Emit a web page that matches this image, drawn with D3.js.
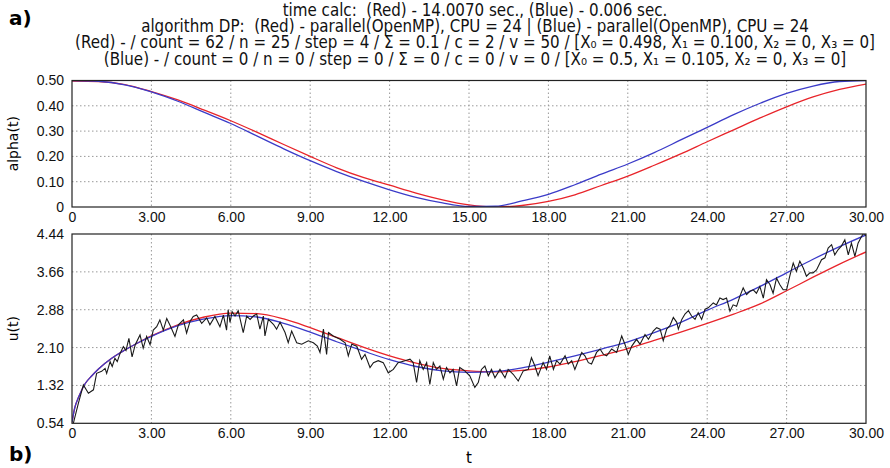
<!DOCTYPE html>
<html>
<head>
<meta charset="utf-8">
<script src="https://cdn.jsdelivr.net/npm/d3@7"></script>
<style>
  body { margin: 0; background: #fff; }
  svg { display: block; font-family: "DejaVu Sans", sans-serif; }
  .tick text { font-size: 14px; fill: #111; }
  .grid line { stroke: #999; stroke-dasharray: 1.5,2.5; }
  .title { white-space: pre; font-family: "DejaVu Sans Condensed", "DejaVu Sans", sans-serif; }
</style>
</head>
<body>
<div id="chart"></div>
<script>
// title lines
const titleLines = [
  'time calc:  (Red) - 14.0070 sec., (Blue) - 0.006 sec.',
  'algorithm DP:  (Red) - parallel(OpenMP), CPU = 24 | (Blue) - parallel(OpenMP), CPU = 24',
  '(Red) - / count = 62 / n = 25 / step = 4 / \u03A3 = 0.1 / c = 2 / v = 50 / [X\u2080 = 0.498, X\u2081 = 0.100, X\u2082 = 0, X\u2083 = 0]',
  '(Blue) - / count = 0 / n = 0 / step = 0 / \u03A3 = 0 / c = 0 / v = 0 / [X\u2080 = 0.5, X\u2081 = 0.105, X\u2082 = 0, X\u2083 = 0]'
];

// ticks
const xTicks = [0, 3, 6, 9, 12, 15, 18, 21, 24, 27, 30];
const alphaTicks = [0, 0.1, 0.2, 0.3, 0.4, 0.5];
const uTicks = [0.54, 1.32, 2.10, 2.88, 3.66, 4.44];

// top panel: alpha(t)
const tAlpha = [0, 1, 2, 3, 4, 5, 6, 7, 8, 9, 10, 11, 12, 13, 14, 15, 16, 17, 18, 19, 20,
  21, 22, 23, 24, 25, 26, 27, 28, 29, 30];
const alphaRed = [0.498, 0.496, 0.484, 0.456, 0.423, 0.383, 0.341, 0.295, 0.247, 0.200, 0.155,
  0.117, 0.086, 0.055, 0.028, 0.008, 0.000, 0.006, 0.022, 0.048, 0.085,
  0.122, 0.165, 0.210, 0.258, 0.305, 0.352, 0.396, 0.435, 0.465, 0.486];
const alphaBlue = [0.500, 0.497, 0.483, 0.455, 0.418, 0.374, 0.330, 0.280, 0.230, 0.183, 0.140,
  0.102, 0.068, 0.038, 0.016, 0.002, 0.003, 0.024, 0.050, 0.088, 0.130,
  0.170, 0.215, 0.265, 0.315, 0.365, 0.410, 0.449, 0.478, 0.496, 0.500];

// bottom panel: u(t)
const tU = [0, 0.1, 0.25, 0.5, 0.75, 1, 1.5, 2, 2.5, 3, 4, 5, 6, 7, 8, 9, 10, 11, 12, 13, 14,
  15, 16, 17, 18, 19, 20, 21, 22, 23, 24, 25, 26, 27, 28, 29, 30];
const uRed = [0.56, 0.85, 1.08, 1.36, 1.52, 1.66, 1.88, 2.05, 2.20, 2.34, 2.57, 2.73, 2.81, 2.80,
  2.69, 2.51, 2.31, 2.11, 1.93, 1.78, 1.67, 1.62, 1.60, 1.63, 1.70, 1.81, 1.94,
  2.08, 2.25, 2.42, 2.60, 2.79, 3.00, 3.27, 3.55, 3.82, 4.07];
const uBlue = [0.56, 0.85, 1.08, 1.36, 1.52, 1.66, 1.88, 2.05, 2.20, 2.33, 2.55, 2.69, 2.76, 2.73,
  2.60, 2.42, 2.22, 2.03, 1.85, 1.71, 1.62, 1.59, 1.61, 1.68, 1.80, 1.93, 2.07,
  2.22, 2.41, 2.62, 2.87, 3.10, 3.36, 3.64, 3.92, 4.18, 4.42];
// noisy measured u(t): [t, u]
const uNoisy = [
  [0.05,0.54],[0.24,0.95],[0.43,1.33],[0.62,1.16],[0.81,1.23],[0.93,1.57],[1.12,1.61],[1.25,1.67],[1.31,1.57],[1.44,1.81],
  [1.52,1.71],[1.62,1.88],[1.71,1.81],[1.81,1.97],[1.94,2.12],[2.04,2.04],[2.15,2.29],[2.27,1.91],[2.39,2.16],[2.57,2.36],
  [2.69,2.09],[2.82,2.33],[2.95,2.16],[3.07,2.46],[3.20,2.53],[3.32,2.67],[3.45,2.46],[3.58,2.70],[3.73,2.53],[3.89,2.33],
  [4.02,2.57],[4.21,2.67],[4.33,2.40],[4.46,2.64],[4.58,2.74],[4.71,2.77],[4.90,2.60],[5.09,2.71],[5.21,2.57],[5.40,2.74],
  [5.59,2.53],[5.72,2.77],[5.84,2.46],[5.90,2.88],[5.97,2.62],[6.05,2.84],[6.16,2.75],[6.28,2.86],[6.47,2.41],[6.60,2.75],
  [6.73,2.68],[6.85,2.75],[6.98,2.79],[7.10,2.48],[7.23,2.75],[7.29,2.34],[7.42,2.68],[7.61,2.58],[7.73,2.48],[7.86,2.62],
  [8.05,2.41],[8.17,2.20],[8.30,2.44],[8.49,2.20],[8.68,2.17],[8.93,2.24],[9.12,2.20],[9.27,2.13],[9.37,2.00],[9.50,2.48],
  [9.62,1.96],[9.69,2.41],[9.87,2.34],[10.13,2.27],[10.32,2.20],[10.44,1.93],[10.57,2.17],[10.76,2.13],[10.94,1.86],[11.07,1.96],
  [11.26,1.69],[11.39,1.79],[11.57,1.83],[11.76,1.79],[11.95,1.58],[12.14,1.65],[12.32,1.79],[12.58,1.83],[12.77,1.86],[12.89,1.79],
  [13.02,1.38],[13.14,1.83],[13.27,1.65],[13.40,1.79],[13.52,1.34],[13.65,1.79],[13.77,1.65],[13.90,1.72],[14.03,1.45],[14.15,1.69],
  [14.28,1.58],[14.40,1.65],[14.53,1.31],[14.65,1.69],[14.84,1.62],[15.03,1.52],[15.22,1.28],[15.35,1.38],[15.47,1.65],[15.60,1.72],
  [15.73,1.52],[15.85,1.65],[15.98,1.48],[16.17,1.65],[16.36,1.48],[16.48,1.65],[16.67,1.55],[16.86,1.41],[17.05,1.62],[17.24,1.65],
  [17.36,1.89],[17.49,1.72],[17.61,1.52],[17.80,1.79],[17.93,1.65],[18.05,1.93],[18.19,1.65],[18.31,1.83],[18.44,1.76],[18.63,1.93],
  [18.75,1.76],[18.88,1.83],[19.00,1.65],[19.13,1.83],[19.26,2.00],[19.38,1.93],[19.51,1.79],[19.63,1.76],[19.82,2.00],[19.95,2.07],
  [20.08,1.96],[20.20,1.93],[20.39,2.07],[20.58,2.00],[20.77,2.34],[20.89,2.17],[21.02,1.96],[21.15,2.13],[21.33,2.27],[21.46,2.17],
  [21.65,2.37],[21.78,2.27],[21.96,2.44],[22.09,2.51],[22.22,2.48],[22.34,2.24],[22.47,2.48],[22.59,2.55],[22.72,2.72],[22.85,2.62],
  [22.91,2.48],[23.04,2.68],[23.16,2.79],[23.29,2.86],[23.41,2.75],[23.54,2.68],[23.66,2.82],[23.79,2.68],[23.92,2.89],[24.04,2.92],
  [24.23,3.02],[24.35,2.98],[24.48,3.12],[24.60,3.09],[24.73,3.12],[24.86,2.85],[24.98,2.98],[25.11,2.95],[25.23,3.15],[25.36,3.33],
  [25.49,3.19],[25.61,3.26],[25.74,3.29],[25.86,3.22],[25.99,3.36],[26.12,3.12],[26.24,3.50],[26.37,3.40],[26.49,3.22],[26.62,3.53],
  [26.74,3.40],[26.87,3.29],[27.00,3.29],[27.12,3.57],[27.25,3.84],[27.37,3.67],[27.50,3.88],[27.63,3.74],[27.75,3.57],[27.88,3.64],
  [28.00,3.64],[28.13,3.70],[28.32,3.91],[28.45,3.95],[28.57,4.15],[28.70,4.22],[28.82,4.01],[28.95,4.12],[29.07,4.19],[29.20,4.32],
  [29.33,4.01],[29.45,4.25],[29.58,3.98],[29.70,4.25],[29.83,4.39],[29.92,4.46],[30.00,4.40]
];

const width = 890;
const height = 468;
const left = 72, right = 866;
const red = '#e8242a', blue = '#3b3bc8';

const svg = d3.select('#chart').append('svg')
  .attr('width', width)
  .attr('height', height);

svg.append('rect').attr('width', width).attr('height', height).attr('fill', '#fff');

// title
svg.append('g').selectAll('text')
  .data(titleLines)
  .join('text')
  .attr('class', 'title')
  .attr('x', 475)
  .attr('y', (d, i) => 15.5 + i * 16.4)
  .attr('text-anchor', 'middle')
  .style('font-size', '16.8px')
  .attr('fill', '#111')
  .text(d => d);

svg.append('text').attr('x', 9).attr('y', 25)
  .style('font-size', '20px').style('font-weight', 'bold').text('a)');
svg.append('text').attr('x', 9).attr('y', 461)
  .style('font-size', '20px').style('font-weight', 'bold').text('b)');

const xScale = d3.scaleLinear().domain([0, 30]).range([left, right]);

function panel(top, bottom, yDomain, yTicks, yFmt, label) {
  const y = d3.scaleLinear().domain(yDomain).range([bottom, top]);
  const g = svg.append('g');

  // grid
  g.append('g').attr('class', 'grid').selectAll('line')
    .data(xTicks.slice(1, -1)).join('line')
    .attr('x1', d => xScale(d)).attr('x2', d => xScale(d))
    .attr('y1', top).attr('y2', bottom);
  g.append('g').attr('class', 'grid').selectAll('line')
    .data(yTicks.slice(1, -1)).join('line')
    .attr('y1', d => y(d)).attr('y2', d => y(d))
    .attr('x1', left).attr('x2', right);

  const xaxis = d3.axisBottom(xScale).tickValues(xTicks).tickSize(0).tickPadding(5)
    .tickFormat(d => d === 0 ? '0' : d3.format('.2f')(d));
  const yaxis = d3.axisLeft(y).tickValues(yTicks).tickSize(0).tickPadding(8).tickFormat(yFmt);

  g.append('g').attr('transform', 'translate(0,' + bottom + ')').call(xaxis)
    .call(a => a.select('.domain').remove());
  g.append('g').attr('transform', 'translate(' + left + ',0)').call(yaxis)
    .call(a => a.select('.domain').remove());

  g.append('text')
    .attr('transform', 'translate(18,' + (top + bottom) / 2 + ') rotate(-90)')
    .attr('text-anchor', 'middle')
    .style('font-size', '14px')
    .text(label);

  const clipId = 'clip' + Math.round(top);
  g.append('clipPath').attr('id', clipId)
    .append('rect').attr('x', left).attr('y', top).attr('width', right - left).attr('height', bottom - top);
  const plot = g.append('g').attr('clip-path', 'url(#' + clipId + ')');

  return { g, y, plot, top, bottom };
}

function frame(p) {
  p.g.append('rect')
    .attr('x', left).attr('y', p.top)
    .attr('width', right - left).attr('height', p.bottom - p.top)
    .attr('fill', 'none').attr('stroke', '#222').attr('stroke-width', 1.2);
}

// top panel
const pTop = panel(80.5, 207, [0, 0.5], alphaTicks, d => d === 0 ? '0' : d3.format('.2f')(d), 'alpha(t)');
const lineTop = (vals) => d3.line()
  .x((d, i) => xScale(tAlpha[i]))
  .y(d => pTop.y(d))
  .curve(d3.curveMonotoneX)(vals);
pTop.plot.append('path').attr('d', lineTop(alphaRed))
  .attr('fill', 'none').attr('stroke', red).attr('stroke-width', 1.3);
pTop.plot.append('path').attr('d', lineTop(alphaBlue))
  .attr('fill', 'none').attr('stroke', blue).attr('stroke-width', 1.3);
frame(pTop);

// bottom panel
const pBot = panel(234, 423.3, [0.54, 4.44], uTicks, d3.format('.2f'), 'u(t)');
const lineBot = (vals) => d3.line()
  .x((d, i) => xScale(tU[i]))
  .y(d => pBot.y(d))
  .curve(d3.curveMonotoneX)(vals);
pBot.plot.append('path').attr('d', lineBot(uRed))
  .attr('fill', 'none').attr('stroke', red).attr('stroke-width', 1.3);
pBot.plot.append('path').attr('d', lineBot(uBlue))
  .attr('fill', 'none').attr('stroke', blue).attr('stroke-width', 1.3);
pBot.plot.append('path')
  .attr('d', d3.line().x(d => xScale(d[0])).y(d => pBot.y(d[1]))(uNoisy))
  .attr('fill', 'none').attr('stroke', '#1a1a1a').attr('stroke-width', 1.1);
frame(pBot);

svg.append('text').attr('x', (left + right) / 2).attr('y', 463)
  .attr('text-anchor', 'middle').style('font-size', '15px').text('t');
</script>
</body>
</html>
